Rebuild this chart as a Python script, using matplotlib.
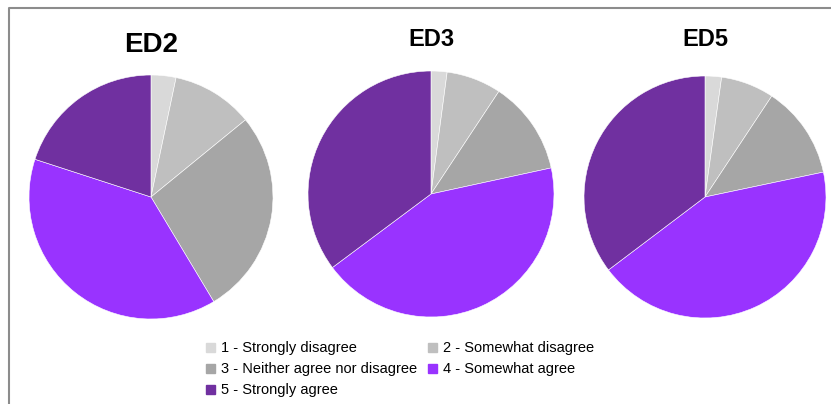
import matplotlib.pyplot as plt
from matplotlib.patches import Rectangle
from matplotlib.lines import Line2D

# survey responses (percent)
labels = ["1 - Strongly disagree", "2 - Somewhat disagree",
          "3 - Neither agree nor disagree", "4 - Somewhat agree",
          "5 - Strongly agree"]
titles = ["ED2", "ED3", "ED5"]
ed2 = [3.3, 10.8, 27.3, 38.6, 20.0]
ed3 = [2.1, 7.2, 12.3, 43.2, 35.2]
ed5 = [2.2, 7.1, 12.4, 43.0, 35.3]
colors = ["#d9d9d9", "#bfbfbf", "#a6a6a6", "#9933ff", "#7030a0"]

plt.rcParams['font.family'] = ['Liberation Sans', 'DejaVu Sans']

W, H = 831, 404
fig = plt.figure(figsize=(W / 100, H / 100), dpi=100)

# frame of the cropped screenshot: only left and top edges show
fig.lines.append(Line2D([8.5 / W, 8.5 / W, 1], [0, 1 - 7.5 / H, 1 - 7.5 / H],
                        transform=fig.transFigure, color="#8c8c8c", linewidth=1.5))

# pie centres / radii in pixels
centres = [(151, 197, 122), (431, 194, 123), (705, 197, 121)]
title_y = [45, 40, 40]
title_size = [20, 17, 17]

for data, name, (cx, cy, r), ty, ts in zip([ed2, ed3, ed5], titles, centres, title_y, title_size):
    ax = fig.add_axes([(cx - r) / W, 1 - (cy + r) / H, 2 * r / W, 2 * r / H])
    ax.pie(data, colors=colors, startangle=90, counterclock=False,
           wedgeprops=dict(edgecolor="white", linewidth=0.4))
    ax.set_xlim(-1, 1)
    ax.set_ylim(-1, 1)
    ax.axis("off")
    fig.text(cx / W, 1 - ty / H, name, ha="center", va="center",
             fontsize=ts, fontweight="bold")

# legend, row-major order like the original
handles = [Rectangle((0, 0), 1, 1, color=c) for c in colors]
order = [0, 2, 4, 1, 3]
fig.legend([handles[i] for i in order], [labels[i] for i in order],
           ncol=2, loc="upper left", bbox_to_anchor=(199 / W, 1 - 334 / H),
           frameon=False, fontsize=10.5, handlelength=0.6, handleheight=0.6,
           handletextpad=0.4, columnspacing=0.75, labelspacing=0.48, borderpad=0)

fig.savefig("out.png", dpi=100)
